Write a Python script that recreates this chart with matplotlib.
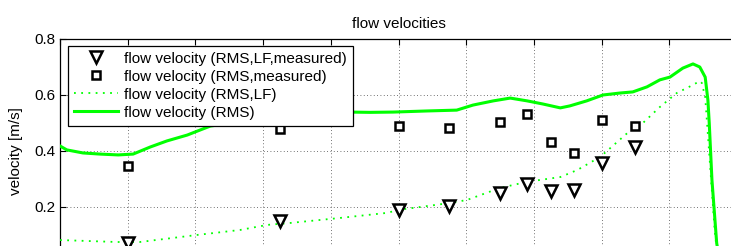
import matplotlib.pyplot as plt
import numpy as np

plt.rcParams["font.family"] = ["Liberation Sans", "DejaVu Sans"]

# measured points (position along channel, arbitrary units)
meas_x = [10.0, 32.5, 50.1, 57.5, 65.0, 69.0, 72.5, 75.9, 80.0, 84.9]
meas_lf = [0.071, 0.150, 0.190, 0.204, 0.250, 0.283, 0.257, 0.260, 0.357, 0.415]
meas_rms = [0.347, 0.479, 0.489, 0.482, 0.503, 0.531, 0.433, 0.392, 0.510, 0.489]

# simulated RMS velocity
rms_x = [0, 1.0, 3.4, 5.9, 8.6, 10.8, 13.3, 15.8, 18.8, 20.7, 22.2, 26.6, 32.5,
         38.4, 42.8, 45.8, 49.2, 54.2, 58.6, 61.0, 64.0, 66.5, 69.0, 71.3, 73.9,
         75.3, 77.8, 80.2, 82.7, 84.6, 86.7, 88.6, 90.1, 92.0, 93.5, 94.5, 95.3,
         95.7, 95.9, 96.3, 97.0, 97.5]
rms_v = [0.418, 0.404, 0.393, 0.389, 0.386, 0.389, 0.414, 0.436, 0.457, 0.475,
         0.489, 0.505, 0.520, 0.532, 0.539, 0.538, 0.539, 0.543, 0.546, 0.564,
         0.579, 0.589, 0.579, 0.568, 0.554, 0.561, 0.579, 0.600, 0.607, 0.611,
         0.629, 0.654, 0.664, 0.696, 0.711, 0.700, 0.664, 0.582, 0.500, 0.296,
         0.071, 0.0]

# simulated RMS velocity, low-frequency part
lf_x = [0, 8.4, 11.8, 20.2, 26.6, 30.6, 34.0, 41.4, 48.3, 50.1, 57.5, 60.1,
        65.0, 69.0, 73.9, 76.4, 79.8, 83.8, 86.1, 88.6, 91.1, 93.5, 94.5, 94.8,
        95.3, 96.0, 96.7, 97.2]
lf_v = [0.082, 0.075, 0.075, 0.100, 0.118, 0.136, 0.143, 0.161, 0.179, 0.190,
        0.214, 0.225, 0.268, 0.290, 0.307, 0.332, 0.379, 0.464, 0.500, 0.557,
        0.607, 0.636, 0.650, 0.643, 0.593, 0.357, 0.118, 0.0]

W, H = 731, 246
fig = plt.figure(figsize=(W / 100, H / 100), dpi=100)
# axes runs past the bottom of the image, like the cropped original
ax = fig.add_axes([60 / W, (H - 263) / H, 677 / W, 224 / H])

ax.plot(meas_x, meas_lf, linestyle="none", marker="v", markersize=9,
        markerfacecolor="white", markeredgecolor="black", markeredgewidth=1.8,
        label="flow velocity (RMS,LF,measured)", zorder=4)
ax.plot(meas_x, meas_rms, linestyle="none", marker="s", markersize=6,
        markerfacecolor="white", markeredgecolor="black", markeredgewidth=1.8,
        label="flow velocity (RMS,measured)", zorder=4)
ax.plot(lf_x, lf_v, color="#00ff00", linewidth=1.3, dashes=(1, 3),
        label="flow velocity (RMS,LF)", zorder=3)
ax.plot(rms_x, rms_v, color="#00ff00", linewidth=2.2,
        label="flow velocity (RMS)", zorder=3)

ax.set_xlim(0, 100)
ax.set_ylim(0, 0.8)
ax.set_xticks(np.arange(0, 101, 10))
ax.set_yticks([0, 0.2, 0.4, 0.6, 0.8])
ax.set_yticklabels(["", "0.2", "0.4", "0.6", "0.8"])
ax.tick_params(direction="in", top=True, right=True, labelsize=11, length=4,
               labelbottom=False)
ax.grid(True, linestyle=(0, (1, 3)), color="#444444", linewidth=0.6)
for s in ax.spines.values():
    s.set_linewidth(0.9)

ax.set_title("flow velocities", fontsize=11, pad=8)
ax.set_ylabel("velocity [m/s]", fontsize=11, labelpad=8)

leg = ax.legend(loc="upper left", bbox_to_anchor=(8 / 677, 1 - 7 / 224),
                borderaxespad=0, fontsize=11, frameon=True, fancybox=False,
                edgecolor="black", framealpha=1, handlelength=2.9,
                handletextpad=0.4, labelspacing=0.26, borderpad=0.38)
leg.get_frame().set_linewidth(0.9)

fig.savefig("out.png", dpi=100)
